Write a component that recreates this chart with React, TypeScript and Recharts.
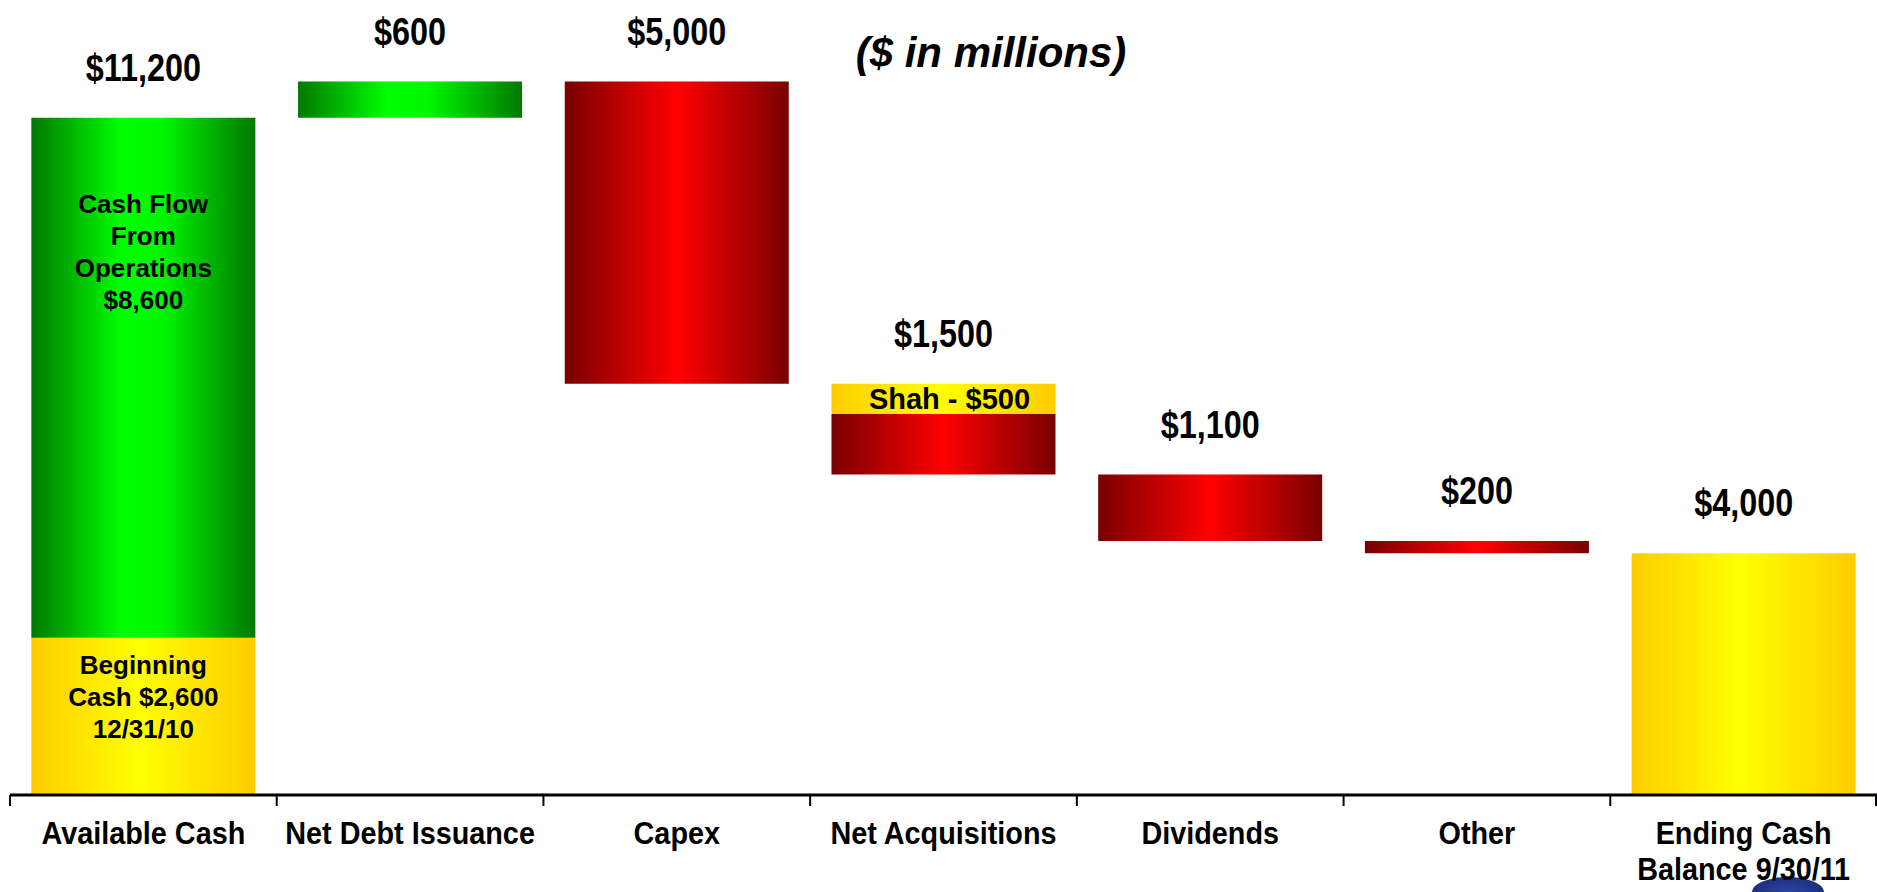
import React from 'react';
import { ComposedChart, Bar, Line, XAxis, YAxis, LabelList } from 'recharts';

const categories = [
  'Available Cash',
  'Net Debt Issuance',
  'Capex',
  'Net Acquisitions',
  'Dividends',
  'Other',
  'Ending Cash\nBalance 9/30/11',
];
const beginningCash = [2600, 0, 0, 0, 0, 0, 0];
const inflows = [8600, 600, 0, 0, 0, 0, 0];
const outflows = [0, 0, 5000, 1000, 1100, 200, 0];
const shahOutflow = [0, 0, 0, 500, 0, 0, 0];
const endingCash = [0, 0, 0, 0, 0, 0, 4000];
const valueLabels = ['$11,200', '$600', '$5,000', '$1,500', '$1,100', '$200', '$4,000'];
const greenNotes = ['Cash Flow\nFrom\nOperations\n$8,600', '', '', '', '', '', ''];
const yellowNotes = ['Beginning\nCash $2,600\n12/31/10', '', '', '', '', '', ''];
const shahNotes = ['', '', '', 'Shah - $500', '', '', ''];
const yDomain = [0, 13000];
const titleText = '($ in millions)';

const FONT = '"Liberation Sans", Arial, Helvetica, sans-serif';
const CHART_W = 1877;
const CHART_H = 892;
const MARGIN = { top: 9, right: 0, left: 10, bottom: 0 };
const BAND = (CHART_W - MARGIN.left - MARGIN.right) / categories.length;

let level = 0;
const rows = categories.map((name, i) => {
  const isTotal = i === categories.length - 1;
  const up = beginningCash[i] + inflows[i];
  const down = outflows[i] + shahOutflow[i];
  let base = 0;
  if (isTotal) {
    base = 0;
  } else if (up > 0) {
    base = level;
    level += up;
  } else {
    level -= down;
    base = level;
  }
  const yellow = beginningCash[i] + endingCash[i];
  const green = inflows[i];
  const red = outflows[i];
  const shah = shahOutflow[i];
  return {
    name,
    base,
    yellow,
    green,
    red,
    shah,
    top: base + yellow + green + red + shah,
    topLabel: valueLabels[i],
    greenNote: greenNotes[i],
    yellowNote: yellowNotes[i],
    shahNote: shahNotes[i],
  };
});

const CatTick = (props: any) => {
  const { x, y, payload, index } = props;
  const lines = String(payload.value).split('\n');
  const isLast = index === categories.length - 1;
  return (
    <g>
      <line x1={x - BAND / 2} x2={x - BAND / 2} y1={y} y2={y + 11} stroke="#000" strokeWidth={2} />
      {isLast && (
        <line x1={x + BAND / 2 - 1} x2={x + BAND / 2 - 1} y1={y} y2={y + 11} stroke="#000" strokeWidth={2} />
      )}
      {lines.map((l, i) => (
        <text
          key={i}
          transform={`translate(${x},${y + 49 + i * 36}) scale(0.9,1)`}
          textAnchor="middle"
          fontSize={32}
          fontWeight={700}
          fontFamily={FONT}
          fill="#000"
        >
          {l}
        </text>
      ))}
    </g>
  );
};

const TopLabel = (props: any) => {
  const { x, y, value } = props;
  if (x == null || y == null || !value) return null;
  return (
    <text
      transform={`translate(${x},${y - 37}) scale(0.83,1)`}
      textAnchor="middle"
      fontSize={39}
      fontWeight={700}
      fontFamily={FONT}
      fill="#000"
    >
      {value}
    </text>
  );
};

const makeNote = (firstOffset: number, fontSize: number, lineH: number, centered = false, dx = 0) =>
  (props: any) => {
    const vb = props.viewBox || {};
    const x = props.x ?? vb.x;
    const y = props.y ?? vb.y;
    const width = props.width ?? vb.width;
    const height = props.height ?? vb.height;
    const note = props.value;
    if (!note || typeof note !== 'string') return null;
    const lines = note.split('\n');
    const cx = x + width / 2 + dx;
    const y0 = centered ? y + height / 2 + fontSize * 0.36 : y + firstOffset;
    return (
      <g>
        {lines.map((l, i) => (
          <text
            key={i}
            x={cx}
            y={y0 + i * lineH}
            textAnchor="middle"
            fontSize={fontSize}
            fontWeight={700}
            fontFamily={FONT}
            fill="#000"
          >
            {l}
          </text>
        ))}
      </g>
    );
  };

const GreenNote = makeNote(95, 26, 32);
const YellowNote = makeNote(36, 26, 32);
const ShahNote = makeNote(0, 29, 0, true, 6);

export default function App() {
  return (
    <div style={{ position: 'absolute', left: 0, top: 0, width: CHART_W, height: CHART_H, overflow: 'hidden', background: '#fff' }}>
      <div
        style={{
          position: 'absolute',
          left: 1752,
          top: 877,
          width: 72,
          height: 15,
          borderRadius: '50% 50% 0 0 / 100% 100% 0 0',
          background: 'radial-gradient(ellipse at 50% 100%, #2b47a6 0%, #1c2f7c 70%, #16265f 100%)',
        }}
      />
      <div style={{ position: 'relative' }}>
        <ComposedChart
          width={CHART_W}
          height={CHART_H}
          data={rows}
          margin={MARGIN}
          barCategoryGap="8%"
        >
          <defs>
            <linearGradient id="gGreen" x1="0" y1="0" x2="1" y2="0">
              <stop offset="0" stopColor="#007800" />
              <stop offset="0.4" stopColor="#00FF00" />
              <stop offset="0.58" stopColor="#00F800" />
              <stop offset="1" stopColor="#007800" />
            </linearGradient>
            <linearGradient id="gRed" x1="0" y1="0" x2="1" y2="0">
              <stop offset="0" stopColor="#780000" />
              <stop offset="0.5" stopColor="#FF0000" />
              <stop offset="1" stopColor="#780000" />
            </linearGradient>
            <linearGradient id="gYellow" x1="0" y1="0" x2="1" y2="0">
              <stop offset="0" stopColor="#FFCC00" />
              <stop offset="0.48" stopColor="#FFFF00" />
              <stop offset="1" stopColor="#FFCC00" />
            </linearGradient>
          </defs>
          <XAxis
            dataKey="name"
            axisLine={{ stroke: '#000', strokeWidth: 3 }}
            tickLine={false}
            tickSize={0}
            tickMargin={0}
            interval={0}
            height={97}
            tick={<CatTick />}
          />
          <YAxis hide domain={yDomain} allowDataOverflow />
          <Bar dataKey="base" stackId="w" fill="transparent" isAnimationActive={false} />
          <Bar dataKey="yellow" stackId="w" fill="url(#gYellow)" isAnimationActive={false}>
            <LabelList dataKey="yellowNote" content={YellowNote} />
          </Bar>
          <Bar dataKey="green" stackId="w" fill="url(#gGreen)" isAnimationActive={false}>
            <LabelList dataKey="greenNote" content={GreenNote} />
          </Bar>
          <Bar dataKey="red" stackId="w" fill="url(#gRed)" isAnimationActive={false} />
          <Bar dataKey="shah" stackId="w" fill="url(#gYellow)" isAnimationActive={false}>
            <LabelList dataKey="shahNote" content={ShahNote} />
          </Bar>
          <Line dataKey="top" stroke="none" dot={false} activeDot={false} isAnimationActive={false}>
            <LabelList dataKey="topLabel" content={TopLabel} />
          </Line>
          <text
            x={991}
            y={67}
            textAnchor="middle"
            fontSize={42}
            fontWeight={700}
            fontStyle="italic"
            fontFamily={FONT}
            fill="#000"
          >
            {titleText}
          </text>
        </ComposedChart>
      </div>
    </div>
  );
}
